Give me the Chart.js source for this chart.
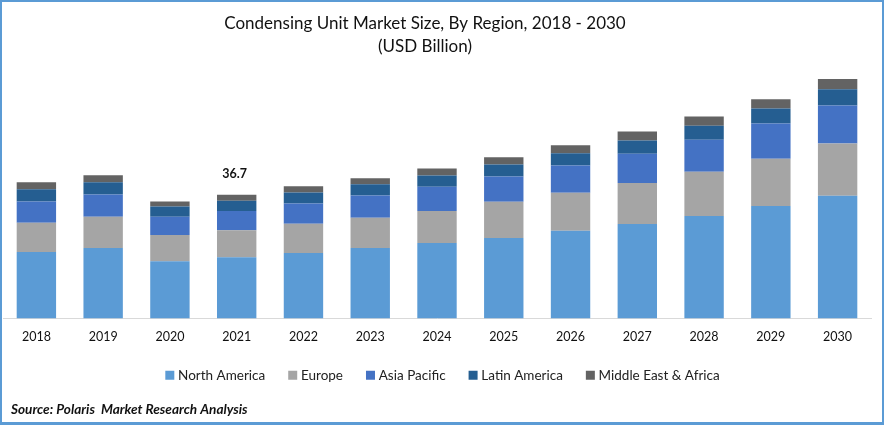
<!DOCTYPE html>
<html>
<head>
<meta charset="utf-8">
<script src="https://cdn.jsdelivr.net/npm/chart.js@4"></script>
<style>
  html, body { margin: 0; padding: 0; background: #fff; }
  #wrap { position: relative; width: 884px; height: 425px; box-sizing: border-box; border: 2px solid #5b9bd5; border-bottom-width: 3px; }
</style>
</head>
<body>
<div id="wrap"><canvas id="myChart"></canvas></div>
<script>
const years = ["2018","2019","2020","2021","2022","2023","2024","2025","2026","2027","2028","2029","2030"];
const northAmerica = [19.7,20.9,17.0,18.2,19.4,20.9,22.4,23.9,26.0,28.0,30.4,33.4,36.4];
const europe = [8.7,9.3,7.8,8.0,8.7,9.0,9.5,10.7,11.3,12.2,13.1,14.0,15.5];
const asiaPacific = [6.3,6.6,5.4,5.7,6.0,6.6,7.2,7.5,8.1,8.7,9.5,10.4,11.3];
const latinAmerica = [3.6,3.6,3.0,3.0,3.3,3.3,3.3,3.6,3.6,3.9,4.2,4.5,4.8];
const middleEast = [2.1,2.1,1.5,1.8,1.8,1.8,2.1,2.1,2.4,2.7,2.7,2.7,3.0];
const labelledYear = "2021";
const labelledTotal = "36.7";
const titleLines = ["Condensing Unit Market Size, By Region, 2018 - 2030", "(USD Billion)"];
const sourceText = "Source: Polaris  Market Research Analysis";

const font = "Lato";

function series(label, data, color) {
  return { label, data, backgroundColor: color, barPercentage: 0.59, categoryPercentage: 1 };
}

// title, source line and the one total above the 2021 bar sit off-centre, so draw them here
const captions = {
  id: "captions",
  afterLayout(chart) {
    chart.legend.left += 7;
    chart.legend.right += 7;
    chart.legend.top -= 13;
    chart.legend.bottom -= 13;
  },
  afterDatasetsDraw(chart) {
    const ctx = chart.ctx;
    const bar = chart.getDatasetMeta(4).data[years.indexOf(labelledYear)];
    ctx.save();
    ctx.textBaseline = "middle";
    ctx.fillStyle = "#111";
    ctx.textAlign = "center";
    ctx.font = "17px " + font;
    ctx.fillText(titleLines[0], 423, 22);
    ctx.fillText(titleLines[1], 423, 45);
    ctx.font = "bold 12.5px " + font;
    ctx.fillText(labelledTotal, bar.x - 2, bar.y - 21);
    ctx.textAlign = "left";
    ctx.font = "italic bold 13.6px " + font;
    ctx.fillText(sourceText, 9, 408);
    ctx.restore();
  },
};

new Chart("myChart", {
  type: "bar",
  data: {
    labels: years,
    datasets: [
      series("North America", northAmerica, "#5b9bd5"),
      series("Europe", europe, "#a5a5a5"),
      series("Asia Pacific", asiaPacific, "#4472c4"),
      series("Latin America", latinAmerica, "#255e91"),
      series("Middle East & Africa", middleEast, "#636363"),
    ],
  },
  options: {
    responsive: true,
    maintainAspectRatio: false,
    animation: false,
    layout: { padding: { left: 1, right: 11, top: 67, bottom: 17 } },
    plugins: {
      tooltip: { enabled: false },
      legend: {
        position: "bottom",
        labels: {
          usePointStyle: true,
          pointStyle: "rect",
          boxWidth: 3,
          boxHeight: 9,
          padding: 26,
          color: "#222",
          font: { family: font, size: 13.5 },
        },
      },
    },
    scales: {
      x: {
        stacked: true,
        grid: { display: false, drawTicks: false },
        border: { color: "#d9d9d9", width: 1 },
        ticks: { color: "#111", font: { family: font, size: 12.5 }, padding: 11, maxRotation: 0 },
      },
      y: { stacked: true, display: false, min: 0, max: 74 },
    },
  },
  plugins: [captions],
});
</script>
</body>
</html>
